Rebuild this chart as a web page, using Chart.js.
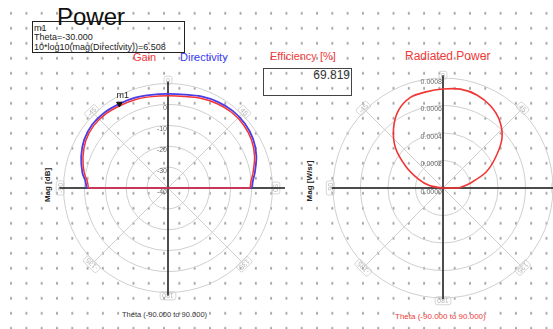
<!DOCTYPE html>
<html>
<head>
<meta charset="utf-8">
<script src="https://cdn.jsdelivr.net/npm/chart.js@4/dist/chart.umd.min.js"></script>
<style>
  html, body { margin: 0; padding: 0; }
  body {
    width: 553px; height: 329px; overflow: hidden; position: relative; background: #fff;
    background-image: radial-gradient(circle, #a0a0a0 0 1px, rgba(255,255,255,0) 1.4px);
    background-size: 15.3px 15px;
    background-position: 3.45px 5.8px;
    font-family: "Liberation Sans", Arial, sans-serif;
  }
  .t { position: absolute; white-space: nowrap; line-height: 1; }
  canvas { position: absolute; }
  .box { position: absolute; box-sizing: border-box; }
</style>
</head>
<body>
<div class="box" style="left:32px;top:21px;width:153px;height:32px;border:1px solid #222;"></div>
<div class="t" style="left:57px;top:5px;font-size:24px;color:#111;">Power</div>
<div class="t" style="left:34px;top:24px;font-size:9px;color:#222;">m1</div>
<div class="t" style="left:34px;top:33px;font-size:9px;color:#222;">Theta=-30.000</div>
<div class="t" style="left:34px;top:42.5px;font-size:9px;color:#222;">10*log10(mag(Directivity))=6.508</div>

<div class="t" style="left:133px;top:51.5px;font-size:11px;color:#f03a3a;">Gain</div>
<div class="t" style="left:180px;top:51.5px;font-size:11px;color:#3b3bf2;">Directivity</div>
<div class="t" style="left:270px;top:50.5px;font-size:11px;color:#f03a3a;">Efficiency [%]</div>
<div class="t" style="left:405px;top:50px;font-size:12px;color:#f03a3a;">Radiated Power</div>

<div class="box" style="left:263px;top:68px;width:89px;height:28px;border:1.5px solid #444;"></div>
<div class="t" style="right:203px;top:68.5px;font-size:12px;color:#333;">69.819</div>

<div class="t" style="left:48px;top:185px;font-size:8px;font-weight:bold;color:#222;transform:translate(-50%,-50%) rotate(-90deg);">Mag [dB]</div>
<div class="t" style="left:310px;top:181px;font-size:8px;font-weight:bold;color:#222;transform:translate(-50%,-50%) rotate(-90deg);">Mag [W/sr]</div>

<div class="t" style="left:122px;top:311px;font-size:7.5px;color:#333;">Theta (-90.000 to 90.000)</div>
<div class="t" style="left:395px;top:313px;font-size:8px;color:#f03a3a;">Theta (-90.000 to 90.000)</div>

<canvas id="left" width="270" height="270" style="left:33px;top:53px;"></canvas>
<canvas id="right" width="270" height="270" style="left:308px;top:53px;"></canvas>

<script>
// ---- far-field cut, theta in degrees ----
const thetaDeg = [-90, -85, -80, -70, -60, -50, -40, -30, -20, -10, 0, 10, 20, 30, 40, 50, 60, 70, 80, 85, 90];
const directivityDb = [-1.0, -0.3, 1.6, 4.2, 6.3, 7.3, 7.2, 6.508, 6.0, 5.3, 5.0, 5.4, 6.6, 7.6, 8.2, 8.0, 7.0, 5.0, 2.2, 0.8, 0.2];
const gainDb = [-1.9, -1.2, 0.7, 3.3, 5.4, 6.4, 6.3, 5.6, 5.1, 4.4, 4.1, 4.5, 5.7, 6.7, 7.3, 7.1, 6.1, 4.1, 1.3, -0.1, -0.7];

// radiated power intensity, W/sr
const powerTheta = [-90, -80, -70, -60, -50, -40, -30, -20, -10, 0, 10, 20, 30, 40, 50, 60, 70, 80, 90];
const radiatedPower = [0.00001, 0.00010, 0.00019, 0.00031, 0.00045, 0.00056, 0.00065, 0.00070, 0.00071, 0.00072,
                       0.00073, 0.00072, 0.00069, 0.00064, 0.00056, 0.00044, 0.00033, 0.00020, 0.00012];

// marker
const markerTheta = -30;

// polar grid definitions
const dbRings = [-30, -20, -10, 0, 10];
const dbTickLabels = ['0', '-10', '-20', '-30', '-40'];
const dbTickValues = [0, -10, -20, -30, -40];
const dbCenter = -40;
const powerRings = [0.0002, 0.0004, 0.0006, 0.0008];
const powerTickLabels = ['0.0008', '0.0006', '0.0004', '0.0002', '0.0000'];
const powerTickValues = [0.0008, 0.0006, 0.0004, 0.0002, 0];
const angleTicks = [0, 45, 90, 135, 180, -135, -90, -45];

const rad = d => d * Math.PI / 180;
// theta measured clockwise from the top of the plot
const toXY = (t, r) => ({ x: r * Math.sin(rad(t)), y: r * Math.cos(rad(t)) });

function polarPoints(thetas, values, offset) {
  return thetas.map((t, i) => toXY(t, values[i] - offset));
}
function closingPoints(thetas, values, offset) {
  const n = thetas.length - 1;
  return [toXY(thetas[n], values[n] - offset), toXY(thetas[0], values[0] - offset)];
}

function polarGrid(o) {
  return {
    id: 'polarGrid',
    beforeDatasetsDraw(chart) {
      const { ctx, scales: { x, y } } = chart;
      const cx = x.getPixelForValue(0), cy = y.getPixelForValue(0);
      const px = v => x.getPixelForValue(v) - cx;
      ctx.save();
      // rings
      ctx.strokeStyle = '#cfcfcf';
      ctx.lineWidth = 1;
      o.rings.forEach(rv => {
        ctx.beginPath(); ctx.arc(cx, cy, px(rv), 0, Math.PI * 2); ctx.stroke();
      });
      // spokes
      const outer = px(o.rings[o.rings.length - 1]);
      angleTicks.forEach(a => {
        ctx.beginPath();
        ctx.moveTo(cx, cy);
        ctx.lineTo(cx + outer * Math.sin(rad(a)), cy - outer * Math.cos(rad(a)));
        ctx.stroke();
      });
      // angle labels
      const lr = px(o.labelR);
      ctx.font = '7px "Liberation Sans", Arial, sans-serif';
      ctx.textAlign = 'center';
      ctx.textBaseline = 'middle';
      angleTicks.forEach(a => {
        ctx.save();
        ctx.translate(cx + lr * Math.sin(rad(a)), cy - lr * Math.cos(rad(a)));
        ctx.rotate(rad(a));
        const txt = String(a);
        const w = ctx.measureText(txt).width + 4;
        ctx.strokeStyle = '#cccccc';
        ctx.lineWidth = 0.8;
        ctx.beginPath();
        ctx.roundRect(-w / 2, -4, w, 8, 2);
        ctx.stroke();
        ctx.fillStyle = '#b4b4b4';
        ctx.fillText(txt, 0, 0.5);
        ctx.restore();
      });
      // axes
      ctx.strokeStyle = '#1a1a1a';
      ctx.lineWidth = 1.5;
      ctx.beginPath();
      ctx.moveTo(cx + px(o.axisLeft), cy); ctx.lineTo(cx + px(o.axisRight), cy);
      ctx.moveTo(cx, cy - px(o.axisTop)); ctx.lineTo(cx, cy + px(o.axisBottom));
      ctx.stroke();
      // radial tick labels
      ctx.font = '7px "Liberation Sans", Arial, sans-serif';
      ctx.textAlign = 'right';
      ctx.fillStyle = '#6a6a6a';
      o.tickValues.forEach((v, i) => {
        ctx.fillText(o.tickLabels[i], cx - 1, cy - px(v - o.offset) + 4);
      });
      ctx.restore();
    }
  };
}

function baseOptions(range) {
  return {
    responsive: false,
    animation: false,
    devicePixelRatio: 1,
    layout: { padding: 0 },
    plugins: { legend: { display: false }, tooltip: { enabled: false } },
    scales: {
      x: { type: 'linear', display: false, min: -range, max: range },
      y: { type: 'linear', display: false, min: -range, max: range }
    },
    elements: { point: { radius: 0 } }
  };
}

// ---- Gain / Directivity (dB) ----
const mIdx = thetaDeg.indexOf(markerTheta);
new Chart(document.getElementById('left'), {
  type: 'scatter',
  data: {
    datasets: [
      { data: [toXY(markerTheta, directivityDb[mIdx] - dbCenter)], showLine: false, pointStyle: 'triangle',
        rotation: 180, pointRadius: 3.2, backgroundColor: '#111', borderColor: '#111', order: 0 },
      { data: polarPoints(thetaDeg, gainDb, dbCenter), showLine: true, borderColor: '#f23535',
        borderWidth: 1.5, tension: 0.3, order: 1 },
      { data: closingPoints(thetaDeg, gainDb, dbCenter), showLine: true, borderColor: '#f23535',
        borderWidth: 1.5, order: 1 },
      { data: polarPoints(thetaDeg, directivityDb, dbCenter), showLine: true, borderColor: '#4b3be8',
        borderWidth: 1.8, tension: 0.3, order: 2 },
      { data: closingPoints(thetaDeg, directivityDb, dbCenter), showLine: true, borderColor: '#4b3be8',
        borderWidth: 1.5, order: 2 }
    ]
  },
  options: baseOptions(62.21),
  plugins: [
    polarGrid({ rings: dbRings.map(v => v - dbCenter), labelR: 51.6, offset: dbCenter,
      tickValues: dbTickValues, tickLabels: dbTickLabels,
      axisLeft: -52, axisRight: 56, axisTop: 51, axisBottom: 51.5 }),
    {
      id: 'markerLabel',
      afterDatasetsDraw(chart) {
        const { ctx, scales: { x, y } } = chart;
        const p = toXY(markerTheta, directivityDb[mIdx] - dbCenter);
        ctx.save();
        ctx.font = '9px "Liberation Sans", Arial, sans-serif';
        ctx.fillStyle = '#222';
        ctx.textAlign = 'left';
        ctx.fillText('m1', x.getPixelForValue(p.x) - 3, y.getPixelForValue(p.y) - 6);
        ctx.restore();
      }
    }
  ]
});

// ---- Radiated power (W/sr) ----
new Chart(document.getElementById('right'), {
  type: 'scatter',
  data: {
    datasets: [
      { data: polarPoints(powerTheta, radiatedPower, 0), showLine: true, borderColor: '#f23535',
        borderWidth: 1.6, tension: 0.3 },
      { data: closingPoints(powerTheta, radiatedPower, 0), showLine: true, borderColor: '#f23535',
        borderWidth: 1.6 }
    ]
  },
  options: baseOptions(0.00098182),
  plugins: [
    polarGrid({ rings: powerRings, labelR: 0.00082, offset: 0,
      tickValues: powerTickValues, tickLabels: powerTickLabels,
      axisLeft: -0.00081, axisRight: 0.00099, axisTop: 0.00082, axisBottom: 0.00081 })
  ]
});
</script>
</body>
</html>
